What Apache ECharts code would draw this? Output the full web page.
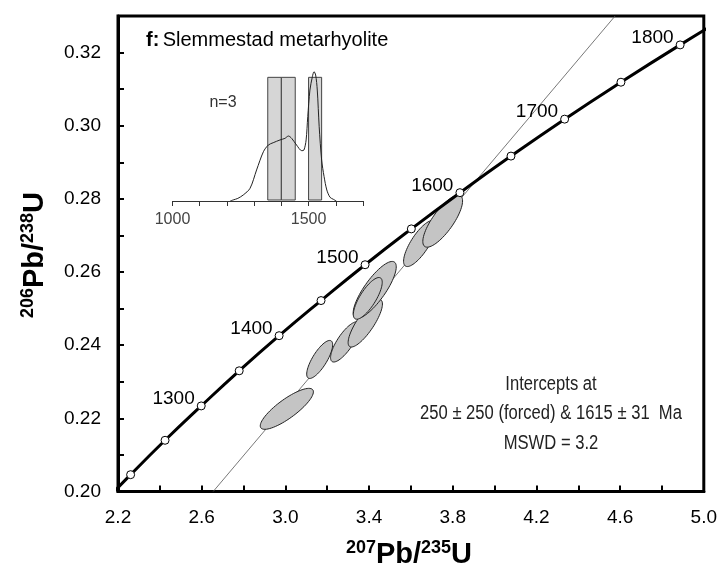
<!DOCTYPE html>
<html>
<head>
<meta charset="utf-8">
<script src="https://cdn.jsdelivr.net/npm/echarts@6/dist/echarts.min.js"></script>
<style>html,body{margin:0;padding:0;background:#fff;}#c{width:720px;height:567px;}</style>
</head>
<body>
<div id="c"></div>
<script>
// Concordia reference points (age in Ma, 207Pb/235U, 206Pb/238U)
const concAge = [1150, 1200, 1250, 1300, 1350, 1400, 1450, 1500, 1550, 1600, 1650, 1700, 1750, 1800, 1850];
const concX = [2.1037, 2.2603, 2.4249, 2.5978, 2.7793, 2.9701, 3.1705, 3.3810, 3.6021, 3.8344, 4.0784, 4.3348, 4.6040, 4.8869, 5.1840];
const concY = [0.1953, 0.2046, 0.2140, 0.2234, 0.2330, 0.2426, 0.2522, 0.2620, 0.2718, 0.2817, 0.2917, 0.3018, 0.3119, 0.3221, 0.3324];
const concLabelAges = [1300, 1400, 1500, 1600, 1700, 1800];

// Discordia (regression line) end points
const discX = [2.655, 4.576];
const discY = [0.200, 0.330];

// Analysis error ellipses: centre, half-extent in x and y, correlation
const ellX = [3.007, 3.164, 3.286, 3.382, 3.427, 3.394, 3.643, 3.752];
const ellY = [0.2226, 0.2361, 0.2409, 0.2460, 0.2551, 0.2528, 0.2678, 0.2739];
const ellErrX = [0.127, 0.062, 0.070, 0.082, 0.103, 0.069, 0.078, 0.095];
const ellErrY = [0.0056, 0.0052, 0.0055, 0.0065, 0.0078, 0.0057, 0.0063, 0.0071];
const ellRho = [0.83, 0.77, 0.78, 0.81, 0.81, 0.77, 0.77, 0.78];

// Inset: relative probability curve
const histAge = [1212, 1223, 1240, 1260, 1285, 1309, 1334, 1352, 1370, 1395, 1413, 1426, 1438, 1456, 1475, 1483, 1491, 1497, 1505, 1514, 1520, 1526, 1532, 1539, 1548, 1557, 1567, 1579, 1591, 1602];
const histDens = [0, 0.008, 0.02, 0.046, 0.097, 0.237, 0.376, 0.427, 0.445, 0.466, 0.478, 0.496, 0.478, 0.427, 0.384, 0.389, 0.466, 0.644, 0.847, 0.949, 0.987, 0.962, 0.847, 0.567, 0.313, 0.186, 0.084, 0.028, 0.013, 0];
// Inset: age bars
const barStart = [1350, 1400, 1500];
const barEnd = [1400, 1451, 1548];
const barHeight = [0.944, 0.944, 0.944];
const insetLabels = [1000, 1500];

const FONT = 'Liberation Sans, Arial, Helvetica, sans-serif';

const concLine = concAge.map((a, i) => [concX[i], concY[i]]);
const concMarks = concAge.map((a, i) => ({ value: [concX[i], concY[i]], age: a }))
  .filter(d => d.value[0] >= 2.2 && d.value[0] <= 5.0 && d.value[1] >= 0.2 && d.value[1] <= 0.33)
  .map(d => ({ value: d.value, label: { show: concLabelAges.indexOf(d.age) >= 0, formatter: String(d.age) } }));
const discData = discX.map((x, i) => [x, discY[i]]);
const ellData = ellX.map((x, i) => [x, ellY[i], ellErrX[i], ellErrY[i], ellRho[i]]);
const histData = histAge.map((a, i) => [a, histDens[i]]);
const barData = barStart.map((s, i) => [s, barEnd[i], barHeight[i]]);

const chart = echarts.init(document.getElementById('c'), null, { renderer: 'canvas' });

const narrowText = (txt, y) => ({
  type: 'text', x: 551, y: y, z: 10, scaleX: 0.83,
  style: { text: txt, font: '20px ' + FONT, fill: '#222', textAlign: 'center', textVerticalAlign: 'middle' }
});

const option = {
  animation: false,
  backgroundColor: '#fff',
  grid: [
    { left: 118, right: 15, top: 16, bottom: 75.5, show: true, borderColor: '#000', borderWidth: 3, backgroundColor: 'transparent' },
    { left: 172.5, top: 70, width: 190.5, height: 131 }
  ],
  xAxis: [
    {
      type: 'value', gridIndex: 0, min: 2.2, max: 5.0, interval: 0.2,
      axisLine: { show: true, onZero: false, lineStyle: { color: '#000', width: 3 } },
      axisTick: { show: true, inside: true, length: 6, lineStyle: { color: '#000', width: 2 } },
      axisLabel: {
        margin: 17, fontSize: 19, color: '#000', fontFamily: FONT,
        formatter: (v, idx) => (idx % 2 === 0 ? v.toFixed(1) : '')
      },
      splitLine: { show: false }
    },
    {
      type: 'value', gridIndex: 1, min: 1000, max: 1700, interval: 100,
      axisLine: { show: true, onZero: false, lineStyle: { color: '#333', width: 1 } },
      axisTick: { show: true, inside: false, length: 5, lineStyle: { color: '#333', width: 1 } },
      axisLabel: {
        margin: 11, fontSize: 16, color: '#444', fontFamily: FONT,
        formatter: v => (insetLabels.indexOf(Math.round(v)) >= 0 ? String(Math.round(v)) : '')
      },
      splitLine: { show: false }
    }
  ],
  yAxis: [
    {
      type: 'value', gridIndex: 0, min: 0.2, max: 0.33, interval: 0.01,
      axisLine: { show: true, onZero: false, lineStyle: { color: '#000', width: 3 } },
      axisTick: { show: true, inside: true, length: 6, lineStyle: { color: '#000', width: 2 } },
      axisLabel: {
        margin: 17, fontSize: 19, color: '#000', fontFamily: FONT,
        formatter: (v, idx) => (idx % 2 === 0 && v < 0.325 ? v.toFixed(2) : '')
      },
      splitLine: { show: false }
    },
    { type: 'value', gridIndex: 1, min: 0, max: 1, show: false }
  ],
  series: [
    {
      name: 'discordia', type: 'line', xAxisIndex: 0, yAxisIndex: 0, data: discData,
      showSymbol: false, symbol: 'none', z: 1, silent: true,
      lineStyle: { color: '#555', width: 0.8 }
    },
    {
      name: 'ellipses', type: 'custom', xAxisIndex: 0, yAxisIndex: 0, data: ellData, z: 2,
      encode: { x: 0, y: 1 },
      renderItem: function (params, api) {
        const cx = api.value(0), cy = api.value(1), ex = api.value(2), ey = api.value(3), r = api.value(4);
        const s = Math.sqrt(1 - r * r);
        const pts = [];
        for (let k = 0; k < 72; k++) {
          const t = k / 72 * Math.PI * 2;
          pts.push(api.coord([cx + ex * Math.cos(t), cy + ey * (r * Math.cos(t) + s * Math.sin(t))]));
        }
        return { type: 'polygon', shape: { points: pts }, style: { fill: '#c4c4c4', stroke: '#222', lineWidth: 1 } };
      }
    },
    {
      name: 'concordia', type: 'line', xAxisIndex: 0, yAxisIndex: 0, data: concLine,
      showSymbol: false, symbol: 'none', smooth: true, z: 3, silent: true,
      lineStyle: { color: '#000', width: 3 }
    },
    {
      name: 'concordia ages', type: 'scatter', xAxisIndex: 0, yAxisIndex: 0, data: concMarks, z: 4,
      symbol: 'circle', symbolSize: 8,
      itemStyle: { color: '#fff', borderColor: '#000', borderWidth: 1, opacity: 1 },
      label: { position: 'left', distance: 2, offset: [0, -7], fontSize: 19, color: '#000', opacity: 1, fontFamily: FONT }
    },
    {
      name: 'bars', type: 'custom', xAxisIndex: 1, yAxisIndex: 1, data: barData, z: 2,
      encode: { x: [0, 1], y: 2 },
      renderItem: function (params, api) {
        const p1 = api.coord([api.value(0), api.value(2)]);
        const p2 = api.coord([api.value(1), 0]);
        return { type: 'rect', shape: { x: p1[0], y: p1[1], width: p2[0] - p1[0], height: p2[1] - p1[1] - 1 },
          style: { fill: '#d6d6d6', stroke: '#444', lineWidth: 1 } };
      }
    },
    {
      name: 'probability', type: 'line', xAxisIndex: 1, yAxisIndex: 1, data: histData, z: 3,
      showSymbol: false, symbol: 'none', smooth: 0.3, silent: true,
      lineStyle: { color: '#222', width: 1 }
    }
  ],
  graphic: [
    {
      type: 'text', x: 146, y: 40, z: 10,
      style: {
        text: '{b|f:} {n|Slemmestad metarhyolite}', textVerticalAlign: 'middle',
        rich: {
          b: { fontSize: 20, fontWeight: 'bold', fontFamily: FONT, fill: '#000', color: '#000' },
          n: { fontSize: 20, fontFamily: FONT, fill: '#000', color: '#000' }
        }
      }
    },
    { type: 'text', x: 223, y: 103, z: 10, style: { text: 'n=3', font: '16px ' + FONT, fill: '#333', textAlign: 'center', textVerticalAlign: 'middle' } },
    narrowText('Intercepts at', 384),
    narrowText('250 \u00b1 250 (forced) & 1615 \u00b1 31  Ma', 413),
    narrowText('MSWD = 3.2', 443),
    {
      type: 'text', x: 409, y: 554, z: 10,
      style: {
        text: '{s|207}{b|Pb/}{s|235}{b|U}', textAlign: 'center', textVerticalAlign: 'middle',
        rich: {
          s: { fontSize: 18, fontWeight: 'bold', fontFamily: FONT, fill: '#000', color: '#000', verticalAlign: 'top', lineHeight: 30 },
          b: { fontSize: 29, fontWeight: 'bold', fontFamily: FONT, fill: '#000', color: '#000', verticalAlign: 'bottom', lineHeight: 30 }
        }
      }
    },
    {
      type: 'text', x: 34, y: 255, z: 10, rotation: Math.PI / 2,
      style: {
        text: '{s|206}{b|Pb/}{s|238}{b|U}', textAlign: 'center', textVerticalAlign: 'middle',
        rich: {
          s: { fontSize: 18, fontWeight: 'bold', fontFamily: FONT, fill: '#000', color: '#000', verticalAlign: 'top', lineHeight: 30 },
          b: { fontSize: 29, fontWeight: 'bold', fontFamily: FONT, fill: '#000', color: '#000', verticalAlign: 'bottom', lineHeight: 30 }
        }
      }
    }
  ]
};
chart.setOption(option);
</script>
</body>
</html>
